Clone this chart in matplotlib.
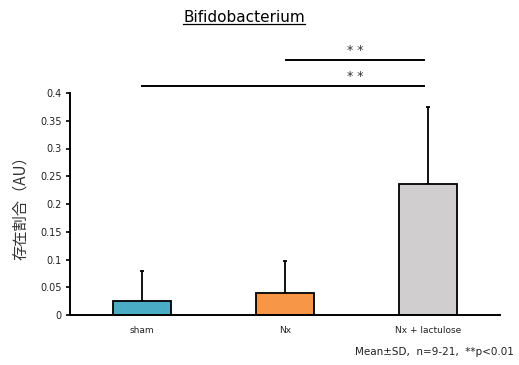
import matplotlib
matplotlib.use("Agg")
import matplotlib.pyplot as plt

categories = ["sham", "Nx", "Nx + lactulose"]
means = [0.026, 0.039, 0.236]
sds = [0.054, 0.058, 0.138]
colors = ["#4BACC6", "#F79646", "#D0CECE"]
yticks = [0, 0.05, 0.1, 0.15, 0.2, 0.25, 0.3, 0.35, 0.4]
ytick_labels = ["0", "0.05", "0.1", "0.15", "0.2", "0.25", "0.3", "0.35", "0.4"]
sig_pairs = [(1, 2, 0.459), (0, 2, 0.4126)]
sig_label = "* *"

plt.rcParams['font.family'] = ['DejaVu Sans', 'Noto Sans CJK JP']

fig = plt.figure(figsize=(5.19, 3.65), dpi=100)
ax = fig.add_axes([70/519, 50/365, 430/519, 222/365])

x = list(range(len(categories)))
ax.bar(x, means, width=0.405, color=colors, edgecolor="black", linewidth=1.3, zorder=2)
ax.errorbar(x, means, yerr=[[0]*len(sds), sds], fmt="none", ecolor="black",
            elinewidth=1.3, capsize=1.2, capthick=1.3, zorder=1)

ax.set_xlim(-0.5, 2.5)
ax.set_ylim(0, 0.4)
ax.set_yticks(yticks)
ax.set_yticklabels(ytick_labels, fontsize=7, color="#222222")
ax.set_xticks(x)
ax.set_xticklabels(categories, fontsize=6.5, color="#222222")
ax.tick_params(axis="x", length=0, pad=8)
ax.tick_params(axis="y", length=3, width=1.2, direction="out", pad=3)
for s in ["top", "right"]:
    ax.spines[s].set_visible(False)
for s in ["left", "bottom"]:
    ax.spines[s].set_linewidth(1.4)

ax.set_ylabel("存在割合（AU）", fontsize=11, family=['Noto Sans CJK JP', 'DejaVu Sans'],
              labelpad=8, color="#333333")

for (a, b, y) in sig_pairs:
    xa = a if a == 0 else a + 0.005
    ax.plot([xa, b - 0.03], [y, y], color="black", lw=1.4, clip_on=False)
    ax.text(1.49, y + 0.006, sig_label, ha="center", va="bottom",
            fontsize=9, clip_on=False, color="#333333")

t = fig.text(244/519, 1 - 18/365, "Bifidobacterium", ha="center", va="center", fontsize=11)
# underline
fig.canvas.draw()
bb = t.get_window_extent()
inv = fig.transFigure.inverted()
(x0, y0), (x1, y1) = inv.transform([[bb.x0, bb.y0], [bb.x1, bb.y1]])
fig.add_artist(plt.Line2D([x0, x1], [y0 + 0.004, y0 + 0.004], color="black", lw=0.9,
                          transform=fig.transFigure))

fig.text(514/519, 1 - 352/365, "Mean±SD,  n=9-21,  **p<0.01", ha="right", va="center",
         fontsize=7.5, color="#222222")

fig.savefig("out.png", dpi=100)
